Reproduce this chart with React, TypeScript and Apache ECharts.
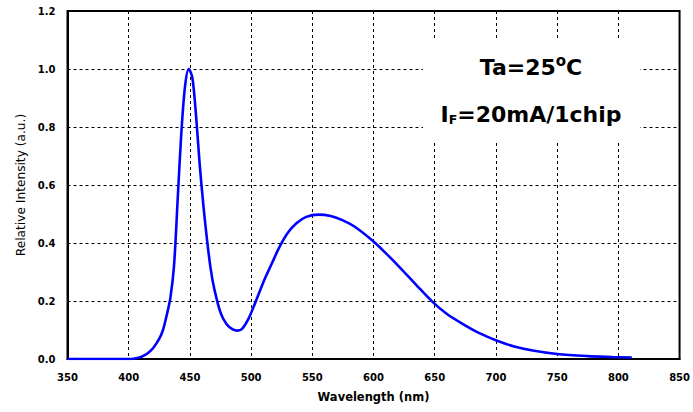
import React, { useEffect, useRef } from "react";
import * as echarts from "echarts";

const wavelengths = [350, 400, 405, 410, 415, 420, 425, 428, 431, 434, 437, 440, 443, 446, 449, 452, 455, 458, 461, 464, 467, 470, 475, 480, 485, 489, 493, 498, 503, 510, 517, 523, 530, 537, 545, 555, 565, 575, 585, 600, 610, 621, 635, 648, 660, 672, 686, 701, 715, 730, 750, 775, 795, 811];
const intensities = [0, 0, 0.002, 0.007, 0.018, 0.038, 0.07, 0.1, 0.15, 0.21, 0.32, 0.55, 0.78, 0.94, 1.0, 0.97, 0.84, 0.67, 0.53, 0.41, 0.31, 0.24, 0.16, 0.12, 0.102, 0.098, 0.106, 0.14, 0.19, 0.265, 0.33, 0.385, 0.435, 0.468, 0.49, 0.498, 0.493, 0.478, 0.455, 0.405, 0.365, 0.318, 0.255, 0.198, 0.155, 0.123, 0.09, 0.063, 0.043, 0.029, 0.017, 0.01, 0.007, 0.005];

const xTicks = { min: 350, max: 850, interval: 50 };
const yTicks = { min: 0, max: 1.2, interval: 0.2 };
const xName = "Wavelength (nm)";
const yName = "Relative Intensity (a.u.)";

export default function App() {
  const ref = useRef<HTMLDivElement>(null);
  useEffect(() => {
    if (!ref.current) return;
    const chart = echarts.init(ref.current, null, { renderer: "svg" });
    const font = "'DejaVu Sans', Verdana, sans-serif";
    const data = wavelengths.map((w, i) => [w, intensities[i]]);
    chart.setOption({
      animation: false,
      backgroundColor: "#fff",
      grid: { left: 67.5, right: 12, top: 11, bottom: 53, show: true, borderColor: "#000", borderWidth: 2 },
      xAxis: {
        type: "value",
        min: xTicks.min,
        max: xTicks.max,
        interval: xTicks.interval,
        name: xName,
        nameLocation: "middle",
        nameGap: 32,
        nameTextStyle: { fontFamily: font, fontWeight: "bold", fontSize: 11.5, color: "#000" },
        axisLine: { show: true, lineStyle: { color: "#000", width: 2 } },
        axisTick: { show: false },
        axisLabel: { fontFamily: font, fontWeight: "bold", fontSize: 10, color: "#000", margin: 13 },
        splitLine: { show: true, lineStyle: { color: "#000", type: [3, 3], width: 1 } },
      },
      yAxis: {
        type: "value",
        min: yTicks.min,
        max: yTicks.max,
        interval: yTicks.interval,
        name: yName,
        nameLocation: "middle",
        nameGap: 40,
        nameTextStyle: { fontFamily: font, fontSize: 12.2, color: "#000" },
        axisLine: { show: true, lineStyle: { color: "#000", width: 2 } },
        axisTick: { show: false },
        axisLabel: {
          fontFamily: font,
          fontWeight: "bold",
          fontSize: 10,
          color: "#000",
          margin: 12,
          formatter: (v: number) => v.toFixed(1),
        },
        splitLine: { show: true, lineStyle: { color: "#000", type: [3, 3], width: 1 } },
      },
      series: [
        {
          type: "line",
          data,
          smooth: 0.3,
          showSymbol: false,
          lineStyle: { color: "#0000ff", width: 2.6 },
          z: 3,
        },
      ],
      graphic: [
        { type: "rect", shape: { x: 423, y: 40, width: 217, height: 103 }, style: { fill: "#fff" }, z: 10 },
        {
          type: "text",
          x: 531,
          y: 67,
          z: 11,
          style: {
            text: "Ta=25{sup|o}C",
            fontFamily: font,
            fontWeight: "bold",
            fontSize: 22,
            fill: "#000",
            align: "center",
            verticalAlign: "middle",
            rich: {
              sup: { fontFamily: font, fontWeight: "bold", fontSize: 15, verticalAlign: "top", padding: [0, 0, 12, 0], fill: "#000" },
            },
          },
        },
        {
          type: "text",
          x: 531,
          y: 114,
          z: 11,
          style: {
            text: "I{sub|F}=20mA/1chip",
            fontFamily: font,
            fontWeight: "bold",
            fontSize: 22,
            fill: "#000",
            align: "center",
            verticalAlign: "middle",
            rich: {
              sub: { fontFamily: font, fontWeight: "bold", fontSize: 12.5, padding: [10, 0, 0, 0], fill: "#000" },
            },
          },
        },
      ],
    });
    return () => chart.dispose();
  }, []);
  return <div ref={ref} style={{ width: 693, height: 412, position: "absolute", left: 0, top: 0 }} />;
}
